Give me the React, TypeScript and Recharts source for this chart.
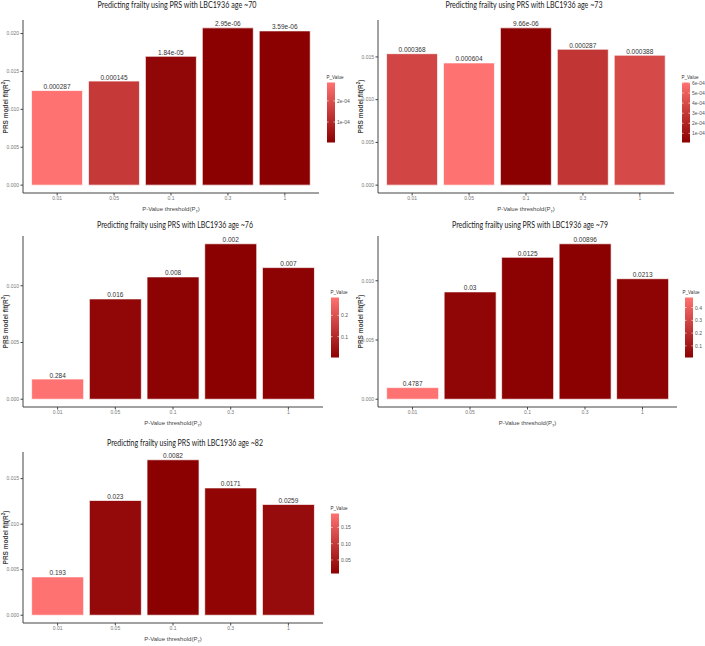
import React from 'react';
import { BarChart, Bar, XAxis, YAxis, Cell, LabelList, Label } from 'recharts';

// p-value thresholds on the x axis (same for every panel)
const thresholds = ['0.01', '0.05', '0.1', '0.3', '1'];

// PRS model fit (R²)
const fitAge70 = [0.01248, 0.01373, 0.0170, 0.02075, 0.02035];
const fitAge73 = [0.01538, 0.0143, 0.0184, 0.0159, 0.0152];
const fitAge76 = [0.00178, 0.00884, 0.01078, 0.0137, 0.0116];
const fitAge79 = [0.00098, 0.00906, 0.01198, 0.01312, 0.01017];
const fitAge82 = [0.00421, 0.0126, 0.01707, 0.01398, 0.01217];

// p-values printed above the bars
const pAge70 = ['0.000287', '0.000145', '1.84e-05', '2.95e-06', '3.59e-06'];
const pAge73 = ['0.000368', '0.000604', '9.66e-06', '0.000287', '0.000388'];
const pAge76 = ['0.284', '0.016', '0.008', '0.002', '0.007'];
const pAge79 = ['0.4787', '0.03', '0.0125', '0.00896', '0.0213'];
const pAge82 = ['0.193', '0.023', '0.0082', '0.0171', '0.0259'];

// y axis ticks
const yTicks70 = [0, 0.005, 0.01, 0.015, 0.02];
const yTicks73 = [0, 0.005, 0.01, 0.015];
const yTicks76 = [0, 0.005, 0.01];
const yTicks79 = [0, 0.005, 0.01];
const yTicks82 = [0, 0.005, 0.01, 0.015];

// colour bar ticks
const barTicks70 = [0.0001, 0.0002];
const barLabels70 = ['1e-04', '2e-04'];
const barTicks73 = [0.0001, 0.0002, 0.0003, 0.0004, 0.0005, 0.0006];
const barLabels73 = ['1e-04', '2e-04', '3e-04', '4e-04', '5e-04', '6e-04'];
const barTicks76 = [0.1, 0.2];
const barLabels76 = ['0.1', '0.2'];
const barTicks79 = [0.1, 0.2, 0.3, 0.4];
const barLabels79 = ['0.1', '0.2', '0.3', '0.4'];
const barTicks82 = [0.05, 0.1, 0.15];
const barLabels82 = ['0.05', '0.10', '0.15'];

const LOW = [139, 0, 0];
const HIGH = [255, 114, 114];
const NARROW = "'Liberation Sans Narrow', 'Liberation Sans', Arial, sans-serif";
const AXIS = '#444';

const mix = (t: number) => {
  const c = LOW.map((l, i) => Math.round(l + (HIGH[i] - l) * t));
  return `rgb(${c[0]},${c[1]},${c[2]})`;
};

interface PanelProps {
  id: string;
  title: string;
  fit: number[];
  pLabels: string[];
  yTicks: number[];
  barTicks: number[];
  barLabels: string[];
  left: number;
  top: number;
  plotRight: number;
  titleX: number;
  titleY: number;
  titleW: number;
  legendDx?: number;
}

const Panel: React.FC<PanelProps> = (props) => {
  const { id, title, fit, pLabels, yTicks, barTicks, barLabels, left, top, plotRight, titleX, titleY, titleW } = props;
  const legendDx = props.legendDx ?? 0;
  const W = 350;
  const plotTop = 20;
  const plotH = id === 'p70' || id === 'p73' ? 173 : 171;
  const axisH = 22;
  const H = plotTop + plotH + axisH;
  const yAxisW = 23;

  const pv = pLabels.map((p) => parseFloat(p));
  const lo = Math.min(...pv);
  const hi = Math.max(...pv);
  const data = thresholds.map((t, i) => ({ threshold: t, fit: fit[i], p: pLabels[i], pv: pv[i] }));
  const maxFit = Math.max(...fit);
  const pad = (plotRight - yAxisW) / 52;

  // colour bar geometry
  const cbX = plotRight + 8;
  const cbH = 60;
  const cbTop = plotTop + plotH / 2 + 6 - cbH / 2;
  const cbBottom = cbTop + cbH;
  const tickY = (v: number) => cbBottom - ((v - lo) / (hi - lo)) * cbH;

  return (
    <div style={{ position: 'absolute', left, top, width: W, height: H }}>
      <BarChart
        width={W}
        height={H}
        data={data}
        margin={{ top: plotTop, right: W - plotRight, left: 0, bottom: 0 }}
        barCategoryGap="5%"
      >
        <XAxis
          dataKey="threshold"
          height={axisH}
          interval={0}
          padding={{ left: pad, right: pad }}
          axisLine={{ stroke: AXIS, strokeWidth: 1 }}
          tickLine={{ stroke: AXIS }}
          tickSize={2.5}
          tickMargin={1}
          tick={{ fontSize: 5, fill: '#777', fontFamily: NARROW }}
        >
          <Label
            content={({ viewBox }: any) => (
              <text
                x={viewBox.x + viewBox.width / 2}
                y={viewBox.y + 18}
                textAnchor="middle"
                fontSize={6}
                fill="#444"
                fontFamily={NARROW}
              >
                P-Value threshold(P
                <tspan fontSize={4} dy={1.5}>T</tspan>
                <tspan dy={-1.5}>)</tspan>
              </text>
            )}
          />
        </XAxis>
        <YAxis
          type="number"
          width={yAxisW}
          domain={[-0.05 * maxFit, 1.05 * maxFit]}
          allowDataOverflow
          ticks={yTicks}
          tickFormatter={(v: number) => v.toFixed(3)}
          axisLine={{ stroke: AXIS, strokeWidth: 1 }}
          tickLine={{ stroke: AXIS }}
          tickSize={2.5}
          tickMargin={1.5}
          tick={{ fontSize: 5, fill: '#777', fontFamily: NARROW }}
        >
          <Label
            content={({ viewBox }: any) => {
              const cy = viewBox.y + viewBox.height / 2;
              return (
                <text
                  x={5}
                  y={cy}
                  transform={`rotate(-90 5 ${cy})`}
                  textAnchor="middle"
                  dominantBaseline="central"
                  fontSize={6.5}
                  fontWeight="bold"
                  fill="#444"
                  fontFamily={NARROW}
                >
                  PRS model fit(R
                  <tspan fontSize={4.5} dy={-2}>2</tspan>
                  <tspan dy={2}>)</tspan>
                </text>
              );
            }}
          />
        </YAxis>
        <Bar dataKey="fit" isAnimationActive={false} stroke="#ffffff" strokeWidth={0.7}>
          {data.map((d, i) => (
            <Cell key={i} fill={mix((d.pv - lo) / (hi - lo))} />
          ))}
          <LabelList
            dataKey="p"
            position="top"
            offset={1.5}
            style={{ fontSize: 6.5, fill: '#333', fontFamily: NARROW }}
          />
        </Bar>
      </BarChart>
      <svg
        width={W}
        height={H}
        style={{ position: 'absolute', left: 0, top: 0, pointerEvents: 'none', overflow: 'visible' }}
      >
        <defs>
          <linearGradient id={`grad-${id}`} x1="0" y1="0" x2="0" y2="1">
            <stop offset="0%" stopColor={mix(1)} />
            <stop offset="100%" stopColor={mix(0)} />
          </linearGradient>
        </defs>
        <text
          x={titleX}
          y={titleY}
          textAnchor="middle"
          fontSize={9}
          fill="#222"
          fontFamily="Lato, 'Open Sans', sans-serif"
          textLength={titleW}
          lengthAdjust="spacingAndGlyphs"
        >
          {title}
        </text>
        <text
          x={cbX - 0.5 + legendDx}
          y={cbTop - 3.5}
          fontSize={5.5}
          fill="#333"
          fontFamily={NARROW}
          textLength={17}
          lengthAdjust="spacingAndGlyphs"
        >
          P_Value
        </text>
        <rect x={cbX} y={cbTop} width={8} height={cbH} fill={`url(#grad-${id})`} />
        {barTicks.map((v, i) => (
          <g key={i}>
            <line x1={cbX} x2={cbX + 1.6} y1={tickY(v)} y2={tickY(v)} stroke="#fff" strokeWidth={0.6} />
            <line x1={cbX + 6.4} x2={cbX + 8} y1={tickY(v)} y2={tickY(v)} stroke="#fff" strokeWidth={0.6} />
            <text
              x={cbX + 10}
              y={tickY(v)}
              fontSize={5}
              fill="#555"
              dominantBaseline="central"
              fontFamily={NARROW}
            >
              {barLabels[i]}
            </text>
          </g>
        ))}
      </svg>
    </div>
  );
};

export default function App() {
  return (
    <div style={{ position: 'absolute', left: 0, top: 0, width: 705, height: 646, background: '#fff', overflow: 'hidden' }}>
      <Panel
        id="p70"
        title="Predicting frailty using PRS with LBC1936 age ~70"
        fit={fitAge70}
        pLabels={pAge70}
        yTicks={yTicks70}
        barTicks={barTicks70}
        barLabels={barLabels70}
        left={0}
        top={0}
        plotRight={319}
        titleX={177}
        titleY={7.5}
        titleW={159}
      />
      <Panel
        id="p73"
        title="Predicting frailty using PRS with LBC1936 age ~73"
        fit={fitAge73}
        pLabels={pAge73}
        yTicks={yTicks73}
        barTicks={barTicks73}
        barLabels={barLabels73}
        left={355}
        top={0}
        plotRight={319}
        titleX={169}
        titleY={7.5}
        titleW={157}
      />
      <Panel
        id="p76"
        title="Predicting frailty using PRS with LBC1936 age ~76"
        fit={fitAge76}
        pLabels={pAge76}
        yTicks={yTicks76}
        barTicks={barTicks76}
        barLabels={barLabels76}
        left={0}
        top={216}
        plotRight={323}
        titleX={175}
        titleY={11.5}
        titleW={156}
      />
      <Panel
        id="p79"
        title="Predicting frailty using PRS with LBC1936 age ~79"
        fit={fitAge79}
        pLabels={pAge79}
        yTicks={yTicks79}
        barTicks={barTicks79}
        barLabels={barLabels79}
        left={355}
        top={216}
        plotRight={322}
        titleX={175}
        titleY={11.5}
        titleW={156}
        legendDx={-2}
      />
      <Panel
        id="p82"
        title="Predicting frailty using PRS with LBC1936 age ~82"
        fit={fitAge82}
        pLabels={pAge82}
        yTicks={yTicks82}
        barTicks={barTicks82}
        barLabels={barLabels82}
        left={0}
        top={432}
        plotRight={323}
        titleX={185}
        titleY={13.5}
        titleW={156}
      />
    </div>
  );
}
